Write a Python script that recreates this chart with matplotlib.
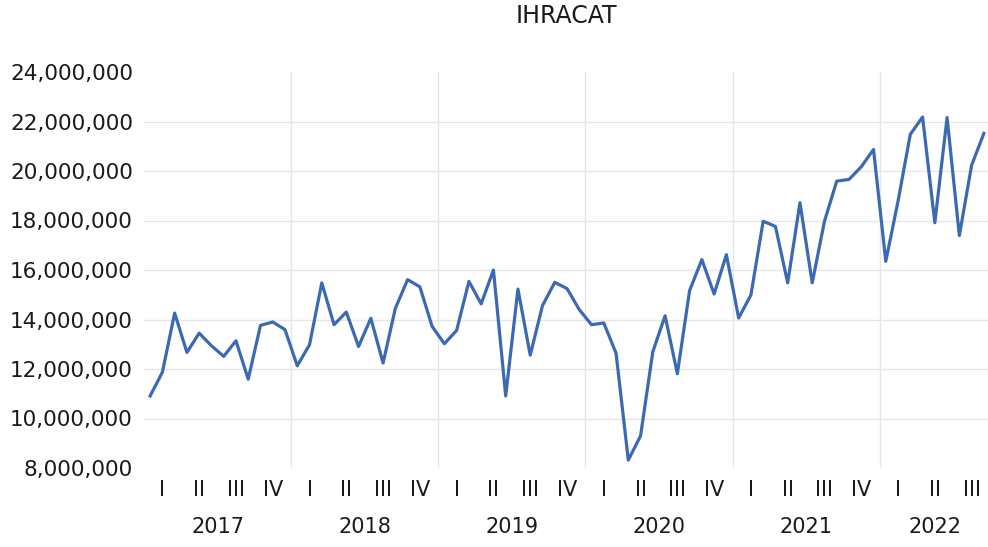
import matplotlib
matplotlib.use("Agg")
import matplotlib.pyplot as plt
import matplotlib.ticker as ticker
import matplotlib.transforms as mtransforms
import numpy as np

# monthly exports, Jan 2017 - Sep 2022
years = ["2017", "2018", "2019", "2020", "2021", "2022"]
quarters = ["I", "II", "III", "IV"]
ihracat = [
    10.91, 11.87, 14.26, 12.67, 13.45, 12.94, 12.51, 13.14, 11.59, 13.76, 13.90, 13.59,
    12.13, 12.98, 15.48, 13.79, 14.30, 12.91, 14.05, 12.24, 14.45, 15.61, 15.32, 13.72,
    13.02, 13.56, 15.54, 14.63, 16.00, 10.91, 15.23, 12.56, 14.56, 15.50, 15.25, 14.40,
    13.79, 13.86, 12.64, 8.32, 9.30, 12.70, 14.15, 11.81, 15.17, 16.42, 15.03, 16.62,
    14.06, 14.99, 17.97, 17.76, 15.48, 18.72, 15.48, 17.97, 19.59, 19.66, 20.17, 20.87,
    16.35, 18.78, 21.48, 22.18, 17.91, 22.16, 17.39, 20.23, 21.52,
]
values = np.array(ihracat) * 1e6
months = np.arange(len(values))

txt = "#1a1a1a"
fig = plt.figure(figsize=(9.88, 5.47), dpi=100)
W, H = 988, 547
ax = fig.add_axes([144 / W, (H - 468) / H, 846 / W, 396 / H])

ax.plot(months, values, color="#3c6ab2", linewidth=2.3, clip_on=False, zorder=3)

ax.set_xlim(-0.5, 68.5)
ax.set_ylim(8e6, 24e6)
ax.set_yticks(np.arange(8e6, 24e6 + 1, 2e6))
ax.yaxis.set_major_formatter(ticker.FuncFormatter(lambda v, p: f"{int(v):,}"))
ax.tick_params(axis="y", length=0, pad=8, labelsize=15.5, labelcolor=txt)
ax.set_xticks([])

for v in np.arange(10e6, 23e6, 2e6):
    ax.axhline(v, color="#e6e6e6", linewidth=1.0, zorder=1)
for k in range(1, len(years)):
    ax.axvline(k * 12 - 0.5, color="#e6e6e6", linewidth=1.0, zorder=1)

for s in ax.spines.values():
    s.set_visible(False)

trans = mtransforms.blended_transform_factory(ax.transData, ax.transAxes)
n = len(values)
for yi, yr in enumerate(years):
    start = yi * 12
    for qi, q in enumerate(quarters):
        m = start + qi * 3 + 1
        if m < n:
            ax.text(m, -0.055, q, transform=trans, ha="center", va="center",
                    fontsize=15, color=txt)
    end = min(start + 12, n)
    ax.text((start + end - 1) / 2, -0.15, yr, transform=trans, ha="center",
            va="center", fontsize=15, color=txt)

fig.text(566 / W, 1 - 16 / H, "IHRACAT", ha="center", va="center",
         fontsize=17, color=txt)

fig.savefig("out.png", dpi=100)
